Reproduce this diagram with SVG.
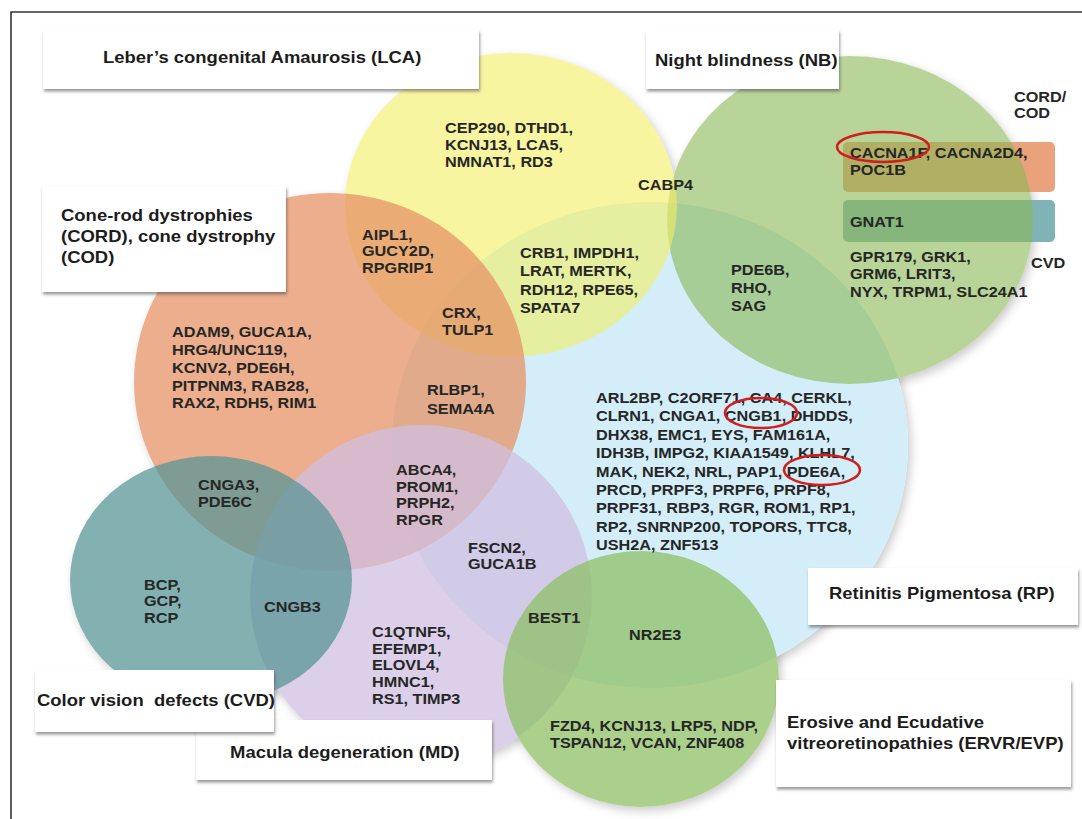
<svg xmlns="http://www.w3.org/2000/svg" width="1082" height="819" viewBox="0 0 1082 819">
<style>
.g{font-family:"Liberation Sans",Arial,sans-serif;font-weight:bold;font-size:14.5px;fill:#262626}
.lbl{font-family:"Liberation Sans",Arial,sans-serif;font-weight:bold;font-size:16.5px;fill:#1c1c1c}
.box{fill:#ffffff;filter:url(#bs)}
.ring{fill:none;stroke:#d01e1e;stroke-width:2.6}
.sh{fill:#000;fill-opacity:0.2}
.wh{fill:#fff}
</style>
<defs>
<filter id="blur" x="-10%" y="-10%" width="120%" height="120%">
<feGaussianBlur stdDeviation="5"/>
</filter>
<filter id="bs" x="-10%" y="-20%" width="120%" height="150%">
<feDropShadow dx="1" dy="2.5" stdDeviation="1.8" flood-color="#444" flood-opacity="0.55"/>
</filter>
</defs>
<rect x="0" y="0" width="1082" height="819" fill="#ffffff"/>
<path d="M11,819 L11,12 L1082,12" fill="none" stroke="#333" stroke-width="1.6"/>

<g id="set-shadows" filter="url(#blur)" transform="translate(3,4)">
<ellipse class="sh" cx="650" cy="445" rx="258" ry="243"/>
<ellipse class="sh" cx="850" cy="220" rx="183" ry="164"/>
<ellipse class="sh" cx="511" cy="205" rx="166" ry="152"/>
<ellipse class="sh" cx="330" cy="382" rx="196" ry="189"/>
<circle class="sh" cx="421" cy="596" r="171"/>
<ellipse class="sh" cx="211" cy="580" rx="141" ry="124"/>
<ellipse class="sh" cx="641" cy="679" rx="138" ry="128"/>
</g>
<g id="set-underlay">
<ellipse class="wh" cx="650" cy="445" rx="258" ry="243"/>
<ellipse class="wh" cx="850" cy="220" rx="183" ry="164"/>
<ellipse class="wh" cx="511" cy="205" rx="166" ry="152"/>
<ellipse class="wh" cx="330" cy="382" rx="196" ry="189"/>
<circle class="wh" cx="421" cy="596" r="171"/>
<ellipse class="wh" cx="211" cy="580" rx="141" ry="124"/>
<ellipse class="wh" cx="641" cy="679" rx="138" ry="128"/>
</g>

<g id="sets">
<g id="bar-cord"><rect x="843" y="142" width="212" height="50" rx="5" fill="#eaa27c"/></g>
<g id="bar-cvd"><rect x="843" y="200" width="212" height="42" rx="5" fill="#80b3b6"/></g>
<g id="set-rp"><ellipse cx="650" cy="445" rx="258" ry="243" fill="#d3eef9"/></g>
<g id="set-nb"><ellipse cx="850" cy="220" rx="183" ry="164" fill="#8bb853" fill-opacity="0.6"/></g>
<g id="set-lca"><ellipse cx="511" cy="205" rx="166" ry="152" fill="#f3ee63" fill-opacity="0.6"/></g>
<g id="set-cord"><ellipse cx="330" cy="382" rx="196" ry="189" fill="#e69366" fill-opacity="0.75"/></g>
<g id="set-md"><circle cx="421" cy="596" r="171" fill="#d0bfe2" fill-opacity="0.75"/></g>
<g id="set-cvd"><ellipse cx="211" cy="580" rx="141" ry="124" fill="#5a9597" fill-opacity="0.75"/></g>
<g id="set-ervr"><ellipse cx="641" cy="679" rx="138" ry="128" fill="#8ec066" fill-opacity="0.75"/></g>
</g>

<g id="connectors"></g>

<g id="genes">
<text class="g" transform="translate(445,133) scale(1.12,1)"><tspan x="0" y="0">CEP290, DTHD1,</tspan><tspan x="0" y="17">KCNJ13, LCA5,</tspan><tspan x="0" y="34">NMNAT1, RD3</tspan></text>
<text class="g" transform="translate(638,190) scale(1.12,1)">CABP4</text>
<text class="g" transform="translate(362,240) scale(1.12,1)"><tspan x="0" y="0">AIPL1,</tspan><tspan x="0" y="16.5">GUCY2D,</tspan><tspan x="0" y="33">RPGRIP1</tspan></text>
<text class="g" transform="translate(520,258) scale(1.12,1)"><tspan x="0" y="0">CRB1, IMPDH1,</tspan><tspan x="0" y="18.3">LRAT, MERTK,</tspan><tspan x="0" y="36.6">RDH12, RPE65,</tspan><tspan x="0" y="54.9">SPATA7</tspan></text>
<text class="g" transform="translate(442,318) scale(1.12,1)"><tspan x="0" y="0">CRX,</tspan><tspan x="0" y="17">TULP1</tspan></text>
<text class="g" transform="translate(1014,102) scale(1.12,1)"><tspan x="0" y="0">CORD/</tspan><tspan x="0" y="16">COD</tspan></text>
<text class="g" transform="translate(850,158) scale(1.12,1)"><tspan x="0" y="0">CACNA1F, CACNA2D4,</tspan><tspan x="0" y="17">POC1B</tspan></text>
<text class="g" transform="translate(850,227) scale(1.12,1)">GNAT1</text>
<text class="g" transform="translate(850,262) scale(1.12,1)"><tspan x="0" y="0">GPR179, GRK1,</tspan><tspan x="0" y="17">GRM6, LRIT3,</tspan><tspan x="0" y="35">NYX, TRPM1, SLC24A1</tspan></text>
<text class="g" transform="translate(1031,268) scale(1.12,1)">CVD</text>
<text class="g" transform="translate(731,275) scale(1.12,1)"><tspan x="0" y="0">PDE6B,</tspan><tspan x="0" y="18">RHO,</tspan><tspan x="0" y="36">SAG</tspan></text>
<text class="g" transform="translate(172,337) scale(1.12,1)"><tspan x="0" y="0">ADAM9, GUCA1A,</tspan><tspan x="0" y="18">HRG4/UNC119,</tspan><tspan x="0" y="36">KCNV2, PDE6H,</tspan><tspan x="0" y="54">PITPNM3, RAB28,</tspan><tspan x="0" y="71">RAX2, RDH5, RIM1</tspan></text>
<text class="g" transform="translate(427,395) scale(1.12,1)"><tspan x="0" y="0">RLBP1,</tspan><tspan x="0" y="19">SEMA4A</tspan></text>
<text class="g" transform="translate(198,490) scale(1.12,1)"><tspan x="0" y="0">CNGA3,</tspan><tspan x="0" y="17">PDE6C</tspan></text>
<text class="g" transform="translate(396,475) scale(1.12,1)"><tspan x="0" y="0">ABCA4,</tspan><tspan x="0" y="16.7">PROM1,</tspan><tspan x="0" y="33.4">PRPH2,</tspan><tspan x="0" y="50.1">RPGR</tspan></text>
<text class="g" transform="translate(468,553) scale(1.12,1)"><tspan x="0" y="0">FSCN2,</tspan><tspan x="0" y="16.5">GUCA1B</tspan></text>
<text class="g" transform="translate(596,403) scale(1.12,1)"><tspan x="0" y="0">ARL2BP, C2ORF71, CA4, CERKL,</tspan><tspan x="0" y="18.4">CLRN1, CNGA1, CNGB1, DHDDS,</tspan><tspan x="0" y="36.8">DHX38, EMC1, EYS, FAM161A,</tspan><tspan x="0" y="55.2">IDH3B, IMPG2, KIAA1549, KLHL7,</tspan><tspan x="0" y="73.6">MAK, NEK2, NRL, PAP1, PDE6A,</tspan><tspan x="0" y="92">PRCD, PRPF3, PRPF6, PRPF8,</tspan><tspan x="0" y="110.4">PRPF31, RBP3, RGR, ROM1, RP1,</tspan><tspan x="0" y="128.8">RP2, SNRNP200, TOPORS, TTC8,</tspan><tspan x="0" y="147.2">USH2A, ZNF513</tspan></text>
<text class="g" transform="translate(144,590) scale(1.12,1)"><tspan x="0" y="0">BCP,</tspan><tspan x="0" y="16.5">GCP,</tspan><tspan x="0" y="33">RCP</tspan></text>
<text class="g" transform="translate(264,612) scale(1.12,1)">CNGB3</text>
<text class="g" transform="translate(372,637) scale(1.12,1)"><tspan x="0" y="0">C1QTNF5,</tspan><tspan x="0" y="16.7">EFEMP1,</tspan><tspan x="0" y="33.4">ELOVL4,</tspan><tspan x="0" y="50.1">HMNC1,</tspan><tspan x="0" y="66.8">RS1, TIMP3</tspan></text>
<text class="g" transform="translate(528,623) scale(1.12,1)">BEST1</text>
<text class="g" transform="translate(629,640) scale(1.12,1)">NR2E3</text>
<text class="g" transform="translate(550,731) scale(1.12,1)"><tspan x="0" y="0">FZD4, KCNJ13, LRP5, NDP,</tspan><tspan x="0" y="17">TSPAN12, VCAN, ZNF408</tspan></text>
</g>

<g id="highlights">
<ellipse class="ring" cx="883" cy="147" rx="46" ry="15"/>
<ellipse class="ring" cx="761" cy="413" rx="36" ry="15"/>
<ellipse class="ring" cx="822" cy="470" rx="38" ry="15"/>
</g>

<g id="label-lca"><rect class="box" x="43" y="30" width="436" height="59"/><text class="lbl" transform="translate(103,63) scale(1.12,1)">Leber’s congenital Amaurosis (LCA)</text></g>
<g id="label-nb"><rect class="box" x="646" y="30" width="193" height="59"/><text class="lbl" transform="translate(655,66) scale(1.12,1)">Night blindness (NB)</text></g>
<g id="label-cord"><rect class="box" x="42" y="186" width="244" height="106"/><text class="lbl" transform="translate(61,221) scale(1.12,1)"><tspan x="0" y="0">Cone-rod dystrophies</tspan><tspan x="0" y="21">(CORD), cone dystrophy</tspan><tspan x="0" y="42">(COD)</tspan></text></g>
<g id="label-md"><rect class="box" x="196" y="720" width="296" height="60"/><text class="lbl" transform="translate(230,758) scale(1.12,1)">Macula degeneration (MD)</text></g>
<g id="label-cvd"><rect class="box" x="35" y="670" width="239" height="62"/><text class="lbl" xml:space="preserve" transform="translate(37,706) scale(1.12,1)">Color vision  defects (CVD)</text></g>
<g id="label-rp"><rect class="box" x="808" y="568" width="270" height="57"/><text class="lbl" transform="translate(829,599) scale(1.12,1)">Retinitis Pigmentosa (RP)</text></g>
<g id="label-ervr"><rect class="box" x="776" y="680" width="295" height="107"/><text class="lbl" transform="translate(787,728) scale(1.12,1)"><tspan x="0" y="0">Erosive and Ecudative</tspan><tspan x="0" y="21">vitreoretinopathies (ERVR/EVP)</tspan></text></g>
</svg>
